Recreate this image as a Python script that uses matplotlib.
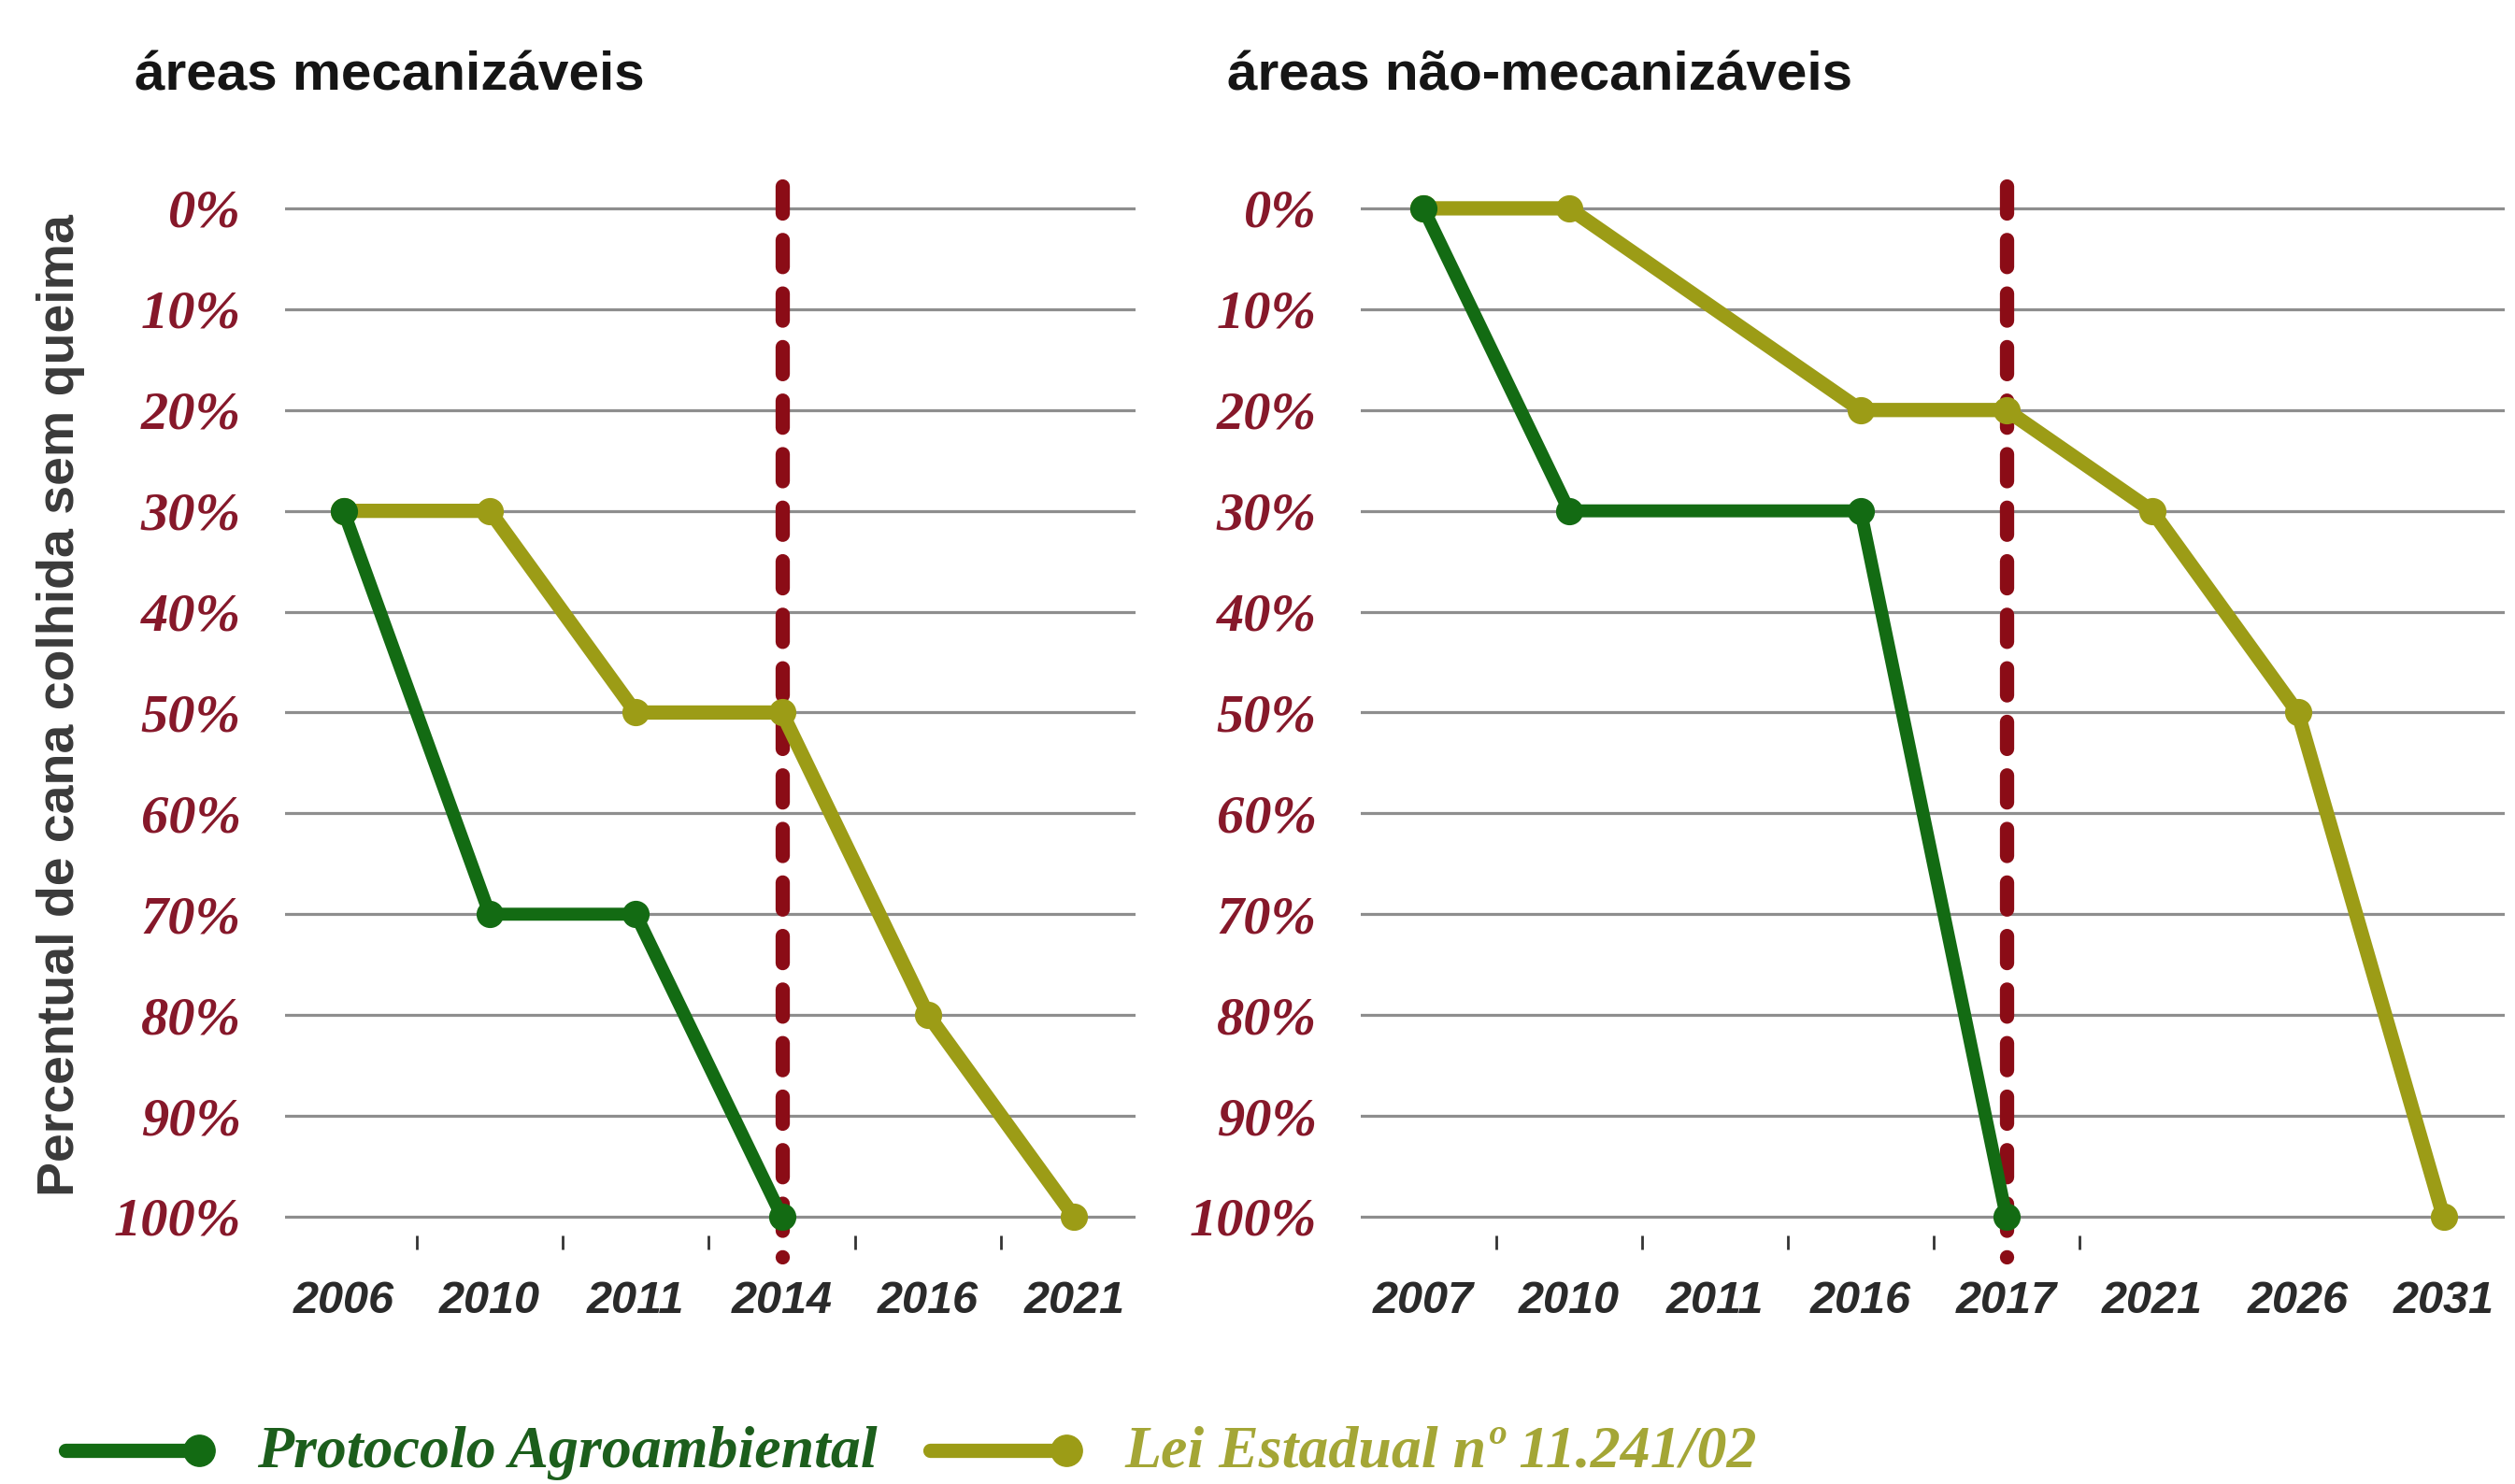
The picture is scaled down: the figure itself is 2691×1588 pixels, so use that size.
import numpy as np
import matplotlib.pyplot as plt
from matplotlib.lines import Line2D

# dados (percentual de cana colhida sem queima)
anos_mec = ['2006', '2010', '2011', '2014', '2016', '2021']
prot_mec_anos = ['2006', '2010', '2011', '2014']
prot_mec = [30, 70, 70, 100]
lei_mec_anos = ['2006', '2010', '2011', '2014', '2016', '2021']
lei_mec = [30, 30, 50, 50, 80, 100]
corte_mec = '2014'

anos_nmec = ['2007', '2010', '2011', '2016', '2017', '2021', '2026', '2031']
prot_nmec_anos = ['2007', '2010', '2016', '2017']
prot_nmec = [0, 30, 30, 100]
lei_nmec_anos = ['2007', '2010', '2016', '2017', '2021', '2026', '2031']
lei_nmec = [0, 0, 20, 20, 30, 50, 100]
corte_nmec = '2017'

niveis = list(range(0, 101, 10))
rotulos_y = [f'{v}%' for v in niveis]

titulos = ['áreas mecanizáveis', 'áreas não-mecanizáveis']
rotulo_eixo = 'Percentual de cana colhida sem queima'
nome_prot = 'Protocolo Agroambiental'
nome_lei = 'Lei Estadual nº 11.241/02'

VERDE = '#136b13'
OLIVA = '#9c9c16'
VERMELHO = '#8b0c16'
GRADE = '#8e8e8e'

W, H = 2691, 1588
fig = plt.figure(figsize=(W / 100, H / 100), dpi=100)


def painel(rect, anos, prot_anos, prot, lei_anos, lei, corte, xlim):
    ax = fig.add_axes(rect)
    pos = {a: i for i, a in enumerate(anos)}
    ax.set_xlim(*xlim)
    ax.set_ylim(101.9, -2.5)

    ax.set_yticks(niveis)
    ax.set_yticklabels(rotulos_y, family='Liberation Serif', style='italic',
                       weight='bold', fontsize=42, color='#86182a')
    ax.tick_params(axis='y', length=0, pad=34)
    ax.grid(axis='y', color=GRADE, lw=2.3, zorder=1)

    ax.set_xticks(range(len(anos)))
    ax.set_xticklabels(anos, family='Liberation Sans', style='italic',
                       weight='bold', fontsize=35, color='#2a2a2a')
    ax.set_xticks(np.arange(5) + 0.5, minor=True)
    ax.tick_params(axis='x', which='major', length=0, pad=34)
    ax.tick_params(axis='x', which='minor', length=11, width=2,
                   color='#333333', direction='out')
    for s in ax.spines.values():
        s.set_visible(False)

    ax.vlines(pos[corte], -2.2, 104, colors=VERMELHO, lw=11,
              linestyles=(0, (1.9, 1.85)), capstyle='round',
              clip_on=False, zorder=3)
    ax.plot([pos[a] for a in lei_anos], lei, color=OLIVA, lw=11,
            marker='o', ms=20, solid_joinstyle='round', clip_on=False, zorder=4)
    ax.plot([pos[a] for a in prot_anos], prot, color=VERDE, lw=10,
            marker='o', ms=20, solid_joinstyle='round', clip_on=False, zorder=5)
    return ax


ax1 = painel([305 / W, 0.1672, 910 / W, 0.7094], anos_mec,
             prot_mec_anos, prot_mec, lei_mec_anos, lei_mec, corte_mec,
             (-0.4, 5.42))
ax2 = painel([1456 / W, 0.1672, 1224 / W, 0.7094], anos_nmec,
             prot_nmec_anos, prot_nmec, lei_nmec_anos, lei_nmec, corte_nmec,
             (-0.43, 7.42))

fig.text(144 / W, 0.939, titulos[0], family='Liberation Sans', weight='bold',
         fontsize=42, color='#151515', va='baseline')
fig.text(1313 / W, 0.939, titulos[1], family='Liberation Sans', weight='bold',
         fontsize=42, color='#151515', va='baseline')
fig.text(65 / W, 0.5246, rotulo_eixo, family='Liberation Sans', weight='bold',
         fontsize=40, color='#3a3a3a', rotation=90, ha='center', va='center')

# legenda desenhada a mao (marcador na ponta da linha)
y_leg = 1 - 1552 / H
for x0, x1, cor, nome, cor_txt in [(70, 213, VERDE, nome_prot, '#1c5e1c'),
                                   (995, 1141, OLIVA, nome_lei, '#a4a636')]:
    fig.add_artist(Line2D([x0 / W, x1 / W], [y_leg, y_leg], color=cor, lw=11,
                          marker='o', ms=24, markevery=[1],
                          solid_capstyle='round'))
    fig.text((x1 + 62) / W, 1 - 1570 / H, nome, family='Liberation Serif',
             style='italic', weight='bold', fontsize=46, color=cor_txt,
             va='baseline')

fig.savefig('out.png', dpi=100, facecolor='white')
